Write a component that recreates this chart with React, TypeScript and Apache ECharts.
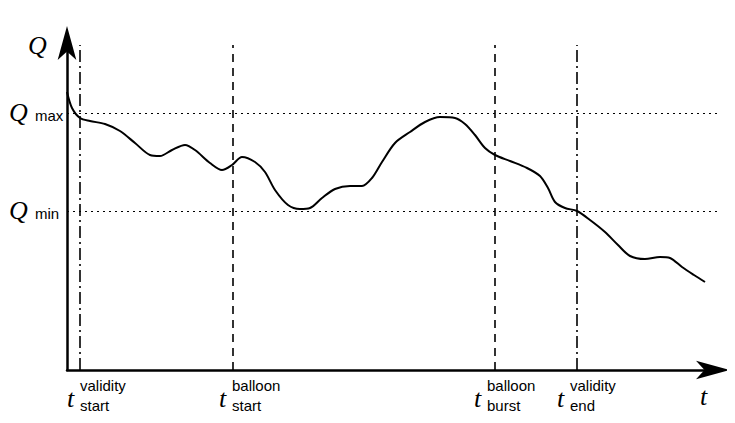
import { useEffect, useRef } from "react";
import * as echarts from "echarts";

// curve points: [t, Q] in axis units (origin at the axes corner)
const curveT = [0, 5, 13, 23, 38, 53, 68, 83, 93, 105, 118, 128, 143, 155, 165, 175, 188, 198, 208, 221, 233, 243, 255, 268, 283, 295, 305, 315, 328, 343, 358, 373, 388, 398, 408, 418, 428, 443, 460, 473, 481, 488, 498, 510, 523, 538, 551, 563, 578, 593, 603, 615, 627, 638];
const curveQ = [278, 262, 252, 249, 246, 239, 227, 215, 214, 220, 225, 220, 207, 200, 205, 213, 208, 198, 180, 165, 161, 162, 172, 181, 184, 184, 192, 208, 227, 238, 248, 253, 252, 246, 235, 222, 215, 209, 202, 194, 182, 168, 162, 159, 150, 138, 125, 114, 111, 113, 112, 103, 95, 88];

const validityT = [13, 510];
const balloonT = [166, 428];
const qMax = 257;
const qMin = 159;
const tMax = 653;
const qTop = 330;
const lineTop = 325;

export default function App() {
  const ref = useRef<HTMLDivElement>(null);

  useEffect(() => {
    if (!ref.current) return;
    const chart = echarts.init(ref.current, undefined, { renderer: "svg" });
    const vLine = (t: number, type: any) => [
      { coord: [t, 0], lineStyle: { type, color: "#000", width: 1.6 } },
      { coord: [t, lineTop] },
    ];
    const hLine = (q: number) => [
      { coord: [0, q], lineStyle: { type: [2, 4], color: "#000", width: 1.2 } },
      { coord: [tMax, q] },
    ];
    const sans = "Liberation Sans, Arial";
    const big = { fontFamily: "Liberation Serif, Times New Roman", fontStyle: "italic", fontSize: 26, fill: "#000" };
    const small = { fontFamily: sans, fontSize: 15, fill: "#000" };
    const tLabel = (x: number, up: string, down: string) => ({
      type: "group",
      x,
      y: 378,
      children: [
        { type: "text", x: 0, y: 7, style: { text: "t", ...big } },
        { type: "text", x: 13, y: 0, style: { text: up, ...small } },
        { type: "text", x: 13, y: 20, style: { text: down, ...small } },
      ],
    });
    chart.setOption({
      animation: false,
      grid: { left: 67, top: 40, right: 15, bottom: 53 },
      xAxis: {
        type: "value",
        min: 0,
        max: tMax,
        axisLine: { lineStyle: { color: "#000", width: 2.5 }, symbol: ["none", "arrow"], symbolSize: [14, 34], symbolOffset: [0, 10] },
        axisTick: { show: false },
        axisLabel: { show: false },
        splitLine: { show: false },
      },
      yAxis: {
        type: "value",
        min: 0,
        max: qTop,
        axisLine: { lineStyle: { color: "#000", width: 2.5 }, symbol: ["none", "arrow"], symbolSize: [14, 34], symbolOffset: [0, 14] },
        axisTick: { show: false },
        axisLabel: { show: false },
        splitLine: { show: false },
      },
      series: [
        {
          type: "line",
          smooth: 0.3,
          showSymbol: false,
          lineStyle: { color: "#000", width: 2 },
          data: curveT.map((t, i) => [t, curveQ[i]]),
          markLine: {
            silent: true,
            symbol: ["none", "none"],
            label: { show: false },
            data: [
              ...validityT.map((t) => vLine(t, [12, 4, 2, 4])),
              ...balloonT.map((t) => vLine(t, [8, 6])),
              hLine(qMax),
              hLine(qMin),
            ],
          },
        },
      ],
      graphic: [
        { type: "text", x: 28, y: 32, style: { text: "Q", ...big } },
        { type: "text", x: 9, y: 99, style: { text: "Q", ...big } },
        { type: "text", x: 35, y: 108, style: { text: "max", ...small } },
        { type: "text", x: 9, y: 197, style: { text: "Q", ...big } },
        { type: "text", x: 35, y: 206, style: { text: "min", ...small } },
        { type: "text", x: 700, y: 383, style: { text: "t", ...big } },
        tLabel(67, "validity", "start"),
        tLabel(219, "balloon", "start"),
        tLabel(474, "balloon", "burst"),
        tLabel(557, "validity", "end"),
      ],
    });
    return () => chart.dispose();
  }, []);

  return <div ref={ref} style={{ width: 735, height: 423, margin: -8, background: "#fff" }} />;
}
